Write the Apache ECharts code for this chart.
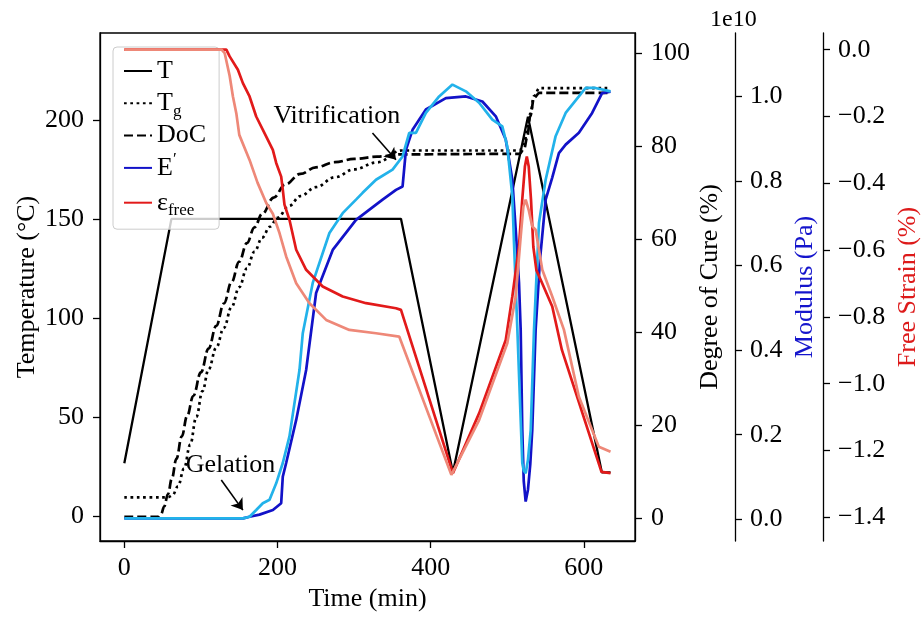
<!DOCTYPE html>
<html>
<head>
<meta charset="utf-8">
<script src="https://cdn.jsdelivr.net/npm/echarts@6/dist/echarts.min.js"></script>
<style>
  html, body { margin: 0; padding: 0; background: #ffffff; }
  #chart { width: 922px; height: 617px; }
</style>
</head>
<body>
<div id="chart"></div>
<script>
// ---- Cure cycle: oven temperature (°C) ----
const tempTime = [0, 61.5, 361.2, 429, 527, 623.5, 634.8];
const tempVal  = [26.6, 150, 150, 22, 201.5, 22, 22];

// ---- Glass transition temperature Tg (°C) ----
const tgTime = [0, 50, 57, 63, 70, 78, 86, 94, 102, 110, 120, 130, 140, 150, 160, 170, 180, 190, 200, 215, 230, 250, 275, 300, 330, 362, 516, 522, 526, 530, 535, 542, 635];
const tgVal  = [9.4, 9.4, 9.5, 10.5, 15, 24, 36, 50, 63, 74, 85, 95, 105.5, 115.5, 125, 133.5, 140.5, 146, 150.5, 156.5, 161.5, 166, 171, 175, 178.5, 184.5, 184.5, 188, 195, 203, 212, 216, 216];

// ---- Degree of cure (%) ----
const docTime = [0, 43.6, 48, 52, 57, 62, 68, 75, 82, 90, 100, 110, 120, 130, 140, 150, 160, 170, 180, 195, 210, 230, 250, 275, 300, 330, 362, 516, 522, 526, 530, 535, 542, 635];
const docVal  = [0.3, 0.3, 0.9, 2.5, 5.2, 8.5, 12.8, 17.6, 22, 26.3, 31.4, 36.5, 41.4, 46.2, 50.8, 55.2, 59.2, 62.6, 65.5, 69, 71.8, 74.1, 75.5, 76.6, 77.3, 77.8, 78.3, 78.4, 79.5, 82, 86.5, 90.5, 91.5, 91.5];

// ---- Storage modulus E' (x1e10 Pa), first curve ----
const modATime = [0, 155, 163.5, 176.5, 194, 204.8, 206.9, 211.3, 224.4, 237.4, 250.4, 272.1, 302.5, 337.2, 354.7, 363.3, 367.7, 376.3, 393.7, 419.8, 445.9, 467.5, 485, 498, 506.6, 511, 515.3, 517.5, 519.6, 521.5, 524, 527, 530, 532.6, 537, 542.7, 550.1, 558.7, 567.4, 576.2, 593.5, 610.8, 623.8, 634.8];
const modAVal  = [0.002, 0.002, 0.006, 0.011, 0.022, 0.038, 0.101, 0.133, 0.235, 0.353, 0.535, 0.637, 0.708, 0.756, 0.779, 0.787, 0.874, 0.921, 0.969, 0.996, 1.0, 0.988, 0.953, 0.898, 0.803, 0.685, 0.56, 0.448, 0.211, 0.09, 0.042, 0.07, 0.13, 0.211, 0.448, 0.614, 0.756, 0.808, 0.866, 0.886, 0.914, 0.961, 1.008, 1.011];

// ---- Storage modulus E' (x1e10 Pa), second curve ----
const modBTime = [0, 155, 163.5, 172.2, 180.8, 189.6, 198.3, 206.9, 215.6, 228.7, 233, 246, 267.8, 285.1, 302.5, 311.1, 328.6, 350.2, 363.3, 372, 380.7, 393.7, 411, 428.4, 445.9, 463.2, 480.5, 493.5, 500, 506.6, 508.8, 513.2, 517, 519.6, 521.5, 524, 527, 530.6, 534.9, 541.4, 550.1, 563.1, 576.2, 593.5, 602.2, 615.2, 634.8];
const modBVal  = [0.002, 0.002, 0.006, 0.022, 0.038, 0.046, 0.085, 0.133, 0.196, 0.353, 0.440, 0.559, 0.677, 0.724, 0.756, 0.772, 0.803, 0.827, 0.858, 0.914, 0.914, 0.961, 1.0, 1.028, 1.012, 0.985, 0.945, 0.929, 0.882, 0.764, 0.653, 0.448, 0.26, 0.133, 0.115, 0.109, 0.14, 0.211, 0.448, 0.701, 0.803, 0.906, 0.961, 1.0, 1.02, 1.02, 1.012];

// ---- Free strain (%), first curve ----
const strainATime = [0, 127, 133.2, 137.5, 148.3, 154.8, 163.5, 172.2, 185.3, 193.9, 198.3, 204.8, 206.9, 209.1, 215.6, 224.4, 237.4, 259, 285.1, 315.6, 354.7, 361.2, 429, 463.2, 498, 506.6, 515.3, 519.5, 523, 525.5, 528, 531, 534, 538, 545.7, 558.7, 571.3, 623, 634.8];
const strainAVal  = [0, 0, 0, -0.020, -0.060, -0.100, -0.140, -0.200, -0.260, -0.300, -0.339, -0.380, -0.419, -0.464, -0.509, -0.599, -0.659, -0.709, -0.739, -0.759, -0.774, -0.779, -1.268, -1.089, -0.869, -0.739, -0.589, -0.45, -0.35, -0.32, -0.35, -0.45, -0.59, -0.66, -0.70, -0.769, -0.899, -1.264, -1.268];

// ---- Free strain (%), second curve ----
const strainBTime = [0, 127, 131, 137.5, 141.8, 146.2, 150.1, 163.5, 173.9, 185.3, 193.9, 202.6, 211.3, 224.4, 241.7, 263.5, 293.8, 328.6, 358.9, 361.2, 427, 463.2, 500, 511, 517.5, 521, 524, 528, 532.6, 537, 545.7, 558.7, 574, 593.5, 619.5, 634.8];
const strainBVal  = [0, 0, -0.010, -0.078, -0.140, -0.190, -0.255, -0.330, -0.398, -0.459, -0.491, -0.549, -0.619, -0.699, -0.759, -0.809, -0.839, -0.849, -0.859, -0.860, -1.273, -1.109, -0.879, -0.739, -0.560, -0.47, -0.449, -0.48, -0.529, -0.539, -0.659, -0.739, -0.839, -1.039, -1.189, -1.204];

// ---- Tick values ----
const timeTicks   = [0, 200, 400, 600];
const tempTicks   = [0, 50, 100, 150, 200];
const docTicks    = [0, 20, 40, 60, 80, 100];
const modTicks    = [0, 0.2, 0.4, 0.6, 0.8, 1.0];
const strainTicks = [-1.4, -1.2, -1.0, -0.8, -0.6, -0.4, -0.2, 0.0];

// ---- Annotations (time, temperature) ----
const vitrText  = [277.5, 201.7];
const vitrArrow = [[324, 193.3], [354.7, 179.8]];
const gelText   = [138.5, 25.8];
const gelArrow  = [[126.6, 18.2], [154.8, 3.0]];

const FONT = '"Liberation Serif", "Times New Roman", serif';
const FS = 26;

function pairs(ts, vs) { return ts.map((t, i) => [t, vs[i]]); }
function minus(v, d) { return (v < 0 ? '\u2212' : '') + Math.abs(v).toFixed(d); }

function tickStyle(values) {
  return { show: true, length: 7, customValues: values, lineStyle: { color: '#000', width: 1.3 } };
}
function labelStyle(values, margin, extra) {
  return Object.assign({ customValues: values, margin: margin, fontFamily: FONT, fontSize: FS, color: '#000' }, extra || {});
}
function valueAxis(opts) {
  return Object.assign({
    type: 'value',
    splitLine: { show: false },
    axisLine: { show: true, onZero: false, lineStyle: { color: '#000', width: 1.3 } },
    nameLocation: 'middle',
    nameRotate: 90,
    nameMoveOverlap: false,
    nameTextStyle: { fontFamily: FONT, fontSize: FS, color: '#000' }
  }, opts);
}

const chart = echarts.init(document.getElementById('chart'), null, { renderer: 'canvas' });

const option = {
  animation: false,
  backgroundColor: '#ffffff',
  textStyle: { fontFamily: FONT },
  grid: {
    left: 100, right: 287, top: 33, bottom: 76,
    show: true, borderColor: '#000', borderWidth: 1.3, backgroundColor: 'transparent',
    containLabel: false, outerBoundsMode: 'none'
  },
  legend: {
    data: ['T', 'Tg', 'DoC', 'E′', 'εfree'],
    orient: 'vertical',
    left: 113, top: 47,
    padding: [10, 13, 10, 10],
    itemGap: 1.8,
    itemWidth: 28, itemHeight: 14,
    itemStyle: { opacity: 0 },
    backgroundColor: 'rgba(255,255,255,0.8)',
    borderColor: '#cccccc', borderWidth: 1, borderRadius: 4,
    selectedMode: false,
    textStyle: {
      fontFamily: FONT, fontSize: FS, color: '#000', lineHeight: 28,
      rich: {
        sub: { fontFamily: FONT, fontSize: 17, lineHeight: 28, padding: [16, 0, 0, 0] },
        sup: { fontFamily: FONT, fontSize: 17, lineHeight: 28, padding: [0, 0, 16, 0] }
      }
    },
    formatter: function (name) {
      if (name === 'Tg') return 'T{sub|g}';
      if (name === 'E′') return 'E{sup|′}';
      if (name === 'εfree') return 'ε{sub|free}';
      return name;
    }
  },
  graphic: [
    { type: 'text', left: 710, top: 8, style: { text: '1e10', font: '24px ' + FONT, fill: '#000' } }
  ],
  xAxis: {
    type: 'value',
    min: -31.75, max: 666.75,
    name: 'Time (min)', nameLocation: 'middle', nameGap: 44,
    nameTextStyle: { fontFamily: FONT, fontSize: FS, color: '#000' },
    splitLine: { show: false },
    axisLine: { show: true, onZero: false, lineStyle: { color: '#000', width: 1.3 } },
    axisTick: tickStyle(timeTicks),
    axisLabel: labelStyle(timeTicks, 14)
  },
  yAxis: [
    valueAxis({
      position: 'left', min: -12.6, max: 243.8,
      name: 'Temperature (°C)', nameGap: 60,
      axisTick: tickStyle(tempTicks),
      axisLabel: labelStyle(tempTicks, 16)
    }),
    valueAxis({
      position: 'right', offset: 0, min: -4.89, max: 104.4,
      name: 'Degree of Cure (%)', nameGap: 62,
      axisTick: tickStyle(docTicks),
      axisLabel: labelStyle(docTicks, 16)
    }),
    valueAxis({
      position: 'right', offset: 100, min: -0.0514, max: 1.150,
      name: 'Modulus (Pa)', nameGap: 57,
      nameTextStyle: { fontFamily: FONT, fontSize: FS, color: '#1515cc' },
      axisTick: tickStyle(modTicks),
      axisLabel: labelStyle(modTicks, 15, { formatter: v => v.toFixed(1) })
    }),
    valueAxis({
      position: 'right', offset: 188, min: -1.471, max: 0.050,
      name: 'Free Strain (%)', nameGap: 72,
      nameTextStyle: { fontFamily: FONT, fontSize: FS, color: '#dd1a1a' },
      axisTick: tickStyle(strainTicks),
      axisLabel: labelStyle(strainTicks, 15, { formatter: v => minus(v, 1) })
    })
  ],
  series: [
    {
      name: 'T', type: 'line', yAxisIndex: 0, symbol: 'none', z: 3,
      data: pairs(tempTime, tempVal),
      itemStyle: { color: '#000' },
      lineStyle: { color: '#000', width: 2.3 },
      markLine: {
        silent: true, symbol: ['none', 'arrow'], symbolSize: 11,
        lineStyle: { color: '#000', width: 1.6, type: 'solid' },
        itemStyle: { color: '#000' },
        label: { show: false },
        data: [
          [{ coord: vitrArrow[0] }, { coord: vitrArrow[1] }],
          [{ coord: gelArrow[0] }, { coord: gelArrow[1] }]
        ]
      },
      markPoint: {
        silent: true, symbol: 'circle', symbolSize: 1,
        itemStyle: { color: 'rgba(0,0,0,0)' },
        label: { show: true, position: 'inside', formatter: '{b}', fontFamily: FONT, fontSize: FS, color: '#000' },
        data: [
          { name: 'Vitrification', coord: vitrText },
          { name: 'Gelation', coord: gelText }
        ]
      }
    },
    {
      name: 'Tg', type: 'line', yAxisIndex: 0, symbol: 'none', z: 3,
      smooth: 0.4, smoothMonotone: 'x',
      data: pairs(tgTime, tgVal),
      itemStyle: { color: '#000' },
      lineStyle: { color: '#000', width: 2.7, type: [2.7, 3.6] }
    },
    {
      name: 'DoC', type: 'line', yAxisIndex: 1, symbol: 'none', z: 3,
      smooth: 0.4, smoothMonotone: 'x',
      data: pairs(docTime, docVal),
      itemStyle: { color: '#000' },
      lineStyle: { color: '#000', width: 2.7, type: [9, 4] }
    },
    {
      name: 'E′', type: 'line', yAxisIndex: 2, symbol: 'none', z: 4,
      data: pairs(modATime, modAVal),
      itemStyle: { color: '#1212c8' },
      lineStyle: { color: '#1212c8', width: 2.7 }
    },
    {
      name: 'E′ (2)', type: 'line', yAxisIndex: 2, symbol: 'none', z: 4,
      data: pairs(modBTime, modBVal),
      itemStyle: { color: '#22b2ea' },
      lineStyle: { color: '#22b2ea', width: 2.7 }
    },
    {
      name: 'εfree', type: 'line', yAxisIndex: 3, symbol: 'none', z: 4,
      data: pairs(strainATime, strainAVal),
      itemStyle: { color: '#e21a1a' },
      lineStyle: { color: '#e21a1a', width: 2.7 }
    },
    {
      name: 'εfree (2)', type: 'line', yAxisIndex: 3, symbol: 'none', z: 4,
      data: pairs(strainBTime, strainBVal),
      itemStyle: { color: '#ee8878' },
      lineStyle: { color: '#ee8878', width: 2.7 }
    }
  ]
};

chart.setOption(option);
</script>
</body>
</html>
